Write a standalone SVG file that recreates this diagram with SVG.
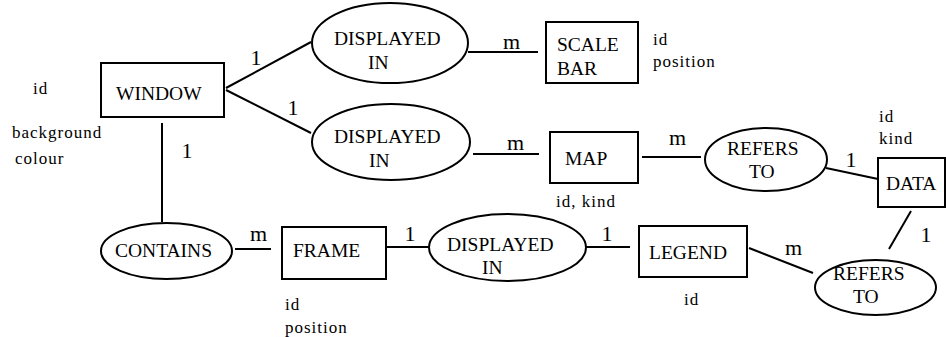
<svg xmlns="http://www.w3.org/2000/svg" width="946" height="337" viewBox="0 0 946 337">
<rect width="946" height="337" fill="#ffffff"/>
<g id="connectors" stroke="#000000" stroke-width="2" fill="none">
<line x1="226" y1="88" x2="311" y2="42"/>
<line x1="226" y1="90" x2="311" y2="133"/>
<line x1="468" y1="52" x2="538" y2="52"/>
<line x1="473" y1="154" x2="539" y2="154"/>
<line x1="642" y1="157" x2="701" y2="157"/>
<line x1="826" y1="168" x2="878" y2="179"/>
<line x1="911" y1="211" x2="889" y2="249"/>
<line x1="749" y1="248" x2="813" y2="273"/>
<line x1="162" y1="123" x2="162" y2="222"/>
<line x1="235" y1="249" x2="271" y2="249"/>
<line x1="386" y1="247" x2="429" y2="247"/>
<line x1="586" y1="247" x2="630" y2="247"/>
</g>
<g id="cardinalities" font-family="Liberation Serif" font-size="22" fill="#000000">
<text text-anchor="middle" x="256" y="65">1</text>
<text text-anchor="middle" x="293" y="115">1</text>
<text x="503" y="49">m</text>
<text x="507" y="150">m</text>
<text x="669" y="145">m</text>
<text text-anchor="middle" x="851" y="167">1</text>
<text text-anchor="middle" x="926" y="242">1</text>
<text x="785" y="255">m</text>
<text text-anchor="middle" x="187" y="158">1</text>
<text x="250" y="241">m</text>
<text text-anchor="middle" x="410" y="241">1</text>
<text text-anchor="middle" x="607" y="241">1</text>
</g>
<g id="window" font-family="Liberation Serif">
<rect x="101" y="63" width="123" height="54" fill="#ffffff" stroke="#000000" stroke-width="2"/>
<text font-size="19.5" x="116" y="99.5">WINDOW</text>
<text font-size="17" letter-spacing="1" x="33" y="94">id</text>
<text font-size="17" letter-spacing="1" x="12" y="138">background</text>
<text font-size="17" letter-spacing="1" x="15" y="164">colour</text>
</g>
<g id="displayed-in-1" font-family="Liberation Serif">
<ellipse cx="390" cy="43" rx="78" ry="40" fill="#ffffff" stroke="#000000" stroke-width="2"/>
<text font-size="19.5" x="334" y="45">DISPLAYED</text>
<text font-size="19.5" x="368" y="69">IN</text>
</g>
<g id="scale-bar" font-family="Liberation Serif">
<rect x="546" y="22" width="92" height="61" fill="#ffffff" stroke="#000000" stroke-width="2"/>
<text font-size="19.5" x="557" y="51">SCALE</text>
<text font-size="19.5" x="557" y="75">BAR</text>
<text font-size="17" letter-spacing="1" x="653" y="45">id</text>
<text font-size="17" letter-spacing="1" x="653" y="67">position</text>
</g>
<g id="displayed-in-2" font-family="Liberation Serif">
<ellipse cx="391" cy="142" rx="79" ry="38" fill="#ffffff" stroke="#000000" stroke-width="2"/>
<text font-size="19.5" x="334" y="143">DISPLAYED</text>
<text font-size="19.5" x="369" y="167">IN</text>
</g>
<g id="map" font-family="Liberation Serif">
<rect x="550" y="132" width="88" height="51" fill="#ffffff" stroke="#000000" stroke-width="2"/>
<text font-size="19.5" x="565" y="165">MAP</text>
<text font-size="17" letter-spacing="1" x="556" y="207">id, kind</text>
</g>
<g id="refers-to-1" font-family="Liberation Serif">
<ellipse cx="766" cy="159.5" rx="61" ry="31.5" fill="#ffffff" stroke="#000000" stroke-width="2"/>
<text font-size="19.5" x="727" y="155">REFERS</text>
<text font-size="19.5" x="749" y="178">TO</text>
</g>
<g id="data" font-family="Liberation Serif">
<rect x="878" y="158" width="67" height="49" fill="#ffffff" stroke="#000000" stroke-width="2"/>
<text font-size="19.5" x="886" y="190">DATA</text>
<text font-size="17" letter-spacing="1" x="879" y="122">id</text>
<text font-size="17" letter-spacing="1" x="879" y="144">kind</text>
</g>
<g id="contains" font-family="Liberation Serif">
<ellipse cx="166.5" cy="251" rx="65.5" ry="28" fill="#ffffff" stroke="#000000" stroke-width="2"/>
<text font-size="19.5" x="115" y="257">CONTAINS</text>
</g>
<g id="frame" font-family="Liberation Serif">
<rect x="282" y="227" width="104" height="52" fill="#ffffff" stroke="#000000" stroke-width="2"/>
<text font-size="19.5" x="293" y="257">FRAME</text>
<text font-size="17" letter-spacing="1" x="285" y="310">id</text>
<text font-size="17" letter-spacing="1" x="285" y="333">position</text>
</g>
<g id="displayed-in-3" font-family="Liberation Serif">
<ellipse cx="507.5" cy="247.5" rx="78.5" ry="33.5" fill="#ffffff" stroke="#000000" stroke-width="2"/>
<text font-size="19.5" x="447" y="251">DISPLAYED</text>
<text font-size="19.5" x="482" y="274">IN</text>
</g>
<g id="legend" font-family="Liberation Serif">
<rect x="639" y="226" width="108" height="51" fill="#ffffff" stroke="#000000" stroke-width="2"/>
<text font-size="19.5" x="649" y="259">LEGEND</text>
<text font-size="17" letter-spacing="1" x="684" y="305">id</text>
</g>
<g id="refers-to-2" font-family="Liberation Serif">
<ellipse cx="875.5" cy="287.5" rx="60.5" ry="27.5" fill="#ffffff" stroke="#000000" stroke-width="2"/>
<text font-size="19.5" x="833" y="280">REFERS</text>
<text font-size="19.5" x="853" y="303">TO</text>
</g>
</svg>
